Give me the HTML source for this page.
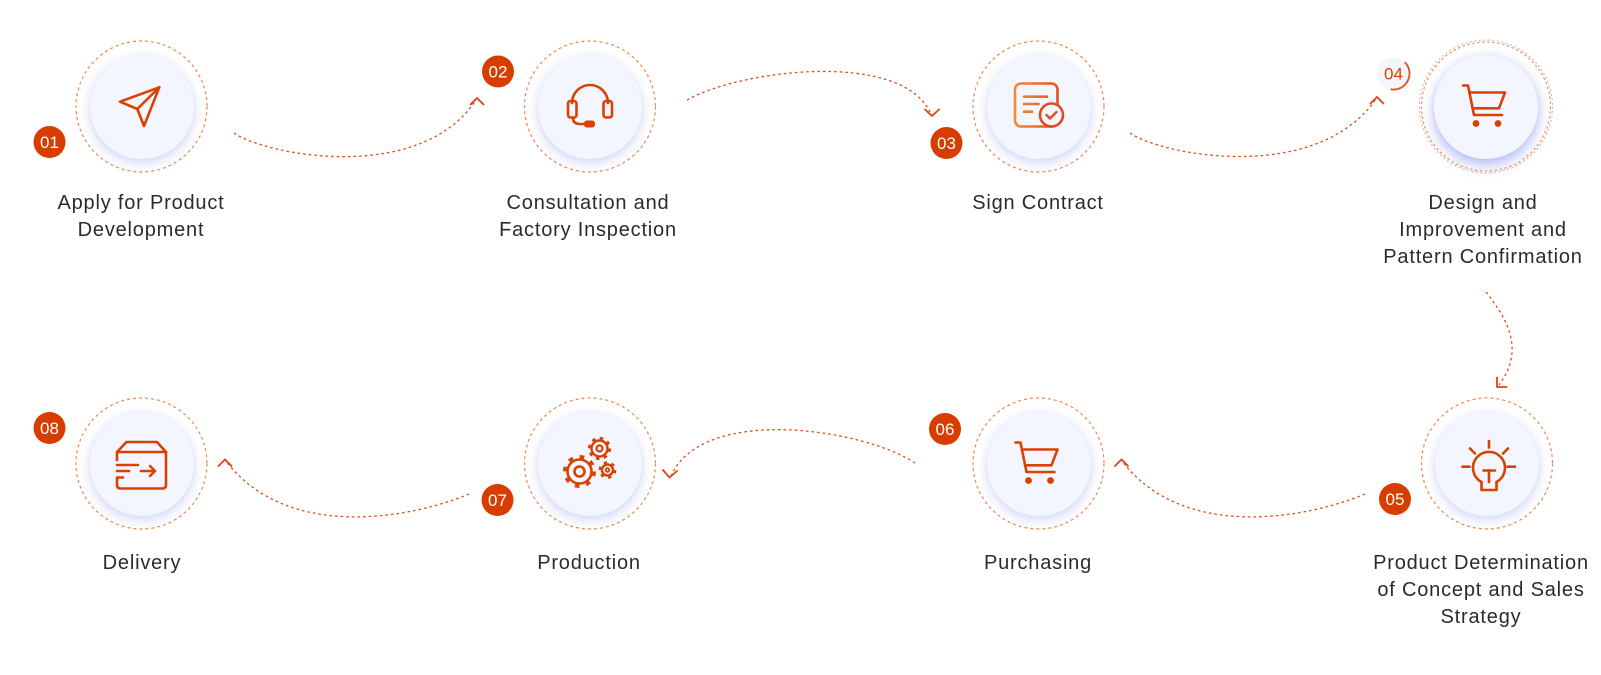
<!DOCTYPE html>
<html>
<head>
<meta charset="utf-8">
<style>
  html,body{margin:0;padding:0;}
  body{width:1601px;height:675px;background:#ffffff;position:relative;overflow:hidden;font-family:"Liberation Sans",Arial,sans-serif;}
  .c{position:absolute;width:104px;height:104px;border-radius:50%;background:#f3f6fe;
     box-shadow:0 5px 12px rgba(85,105,225,.22),0 0 7px rgba(85,105,225,.10);}
  .c.act{box-shadow:0 7px 14px rgba(80,100,225,.38),0 0 8px rgba(80,100,225,.14);}
  .lbl{position:absolute;width:280px;text-align:center;font-size:20px;line-height:27px;letter-spacing:0.8px;color:#2b2b2b;}
  svg{position:absolute;left:0;top:0;}
</style>
</head>
<body>
  <!-- inner circles -->
  <div class="c" style="left:89.5px;top:54.5px"></div>
  <div class="c" style="left:538px;top:54.5px"></div>
  <div class="c" style="left:986.5px;top:54.5px"></div>
  <div class="c act" style="left:1434px;top:54.5px"></div>
  <div class="c" style="left:89.5px;top:411.5px"></div>
  <div class="c" style="left:538px;top:411.5px"></div>
  <div class="c" style="left:986.5px;top:411.5px"></div>
  <div class="c" style="left:1435px;top:411.5px"></div>

  <svg width="1601" height="675" viewBox="0 0 1601 675">
    <defs>
      <linearGradient id="dg" gradientUnits="userSpaceOnUse" x1="1014" y1="0" x2="1064" y2="0">
        <stop offset="0" stop-color="#f28a3a"/>
        <stop offset="1" stop-color="#e04a22"/>
      </linearGradient>
    </defs>

    <!-- outer dashed rings -->
    <g fill="none" stroke="#f0874c" stroke-width="1.2" stroke-dasharray="3 3">
      <circle cx="141.5" cy="106.5" r="65.5"/>
      <circle cx="590" cy="106.5" r="65.5"/>
      <circle cx="1038.5" cy="106.5" r="65.5"/>
      <circle cx="141.5" cy="463.5" r="65.5"/>
      <circle cx="590" cy="463.5" r="65.5"/>
      <circle cx="1038.5" cy="463.5" r="65.5"/>
      <circle cx="1487" cy="463.5" r="65.5"/>
    </g>
    <!-- active ring node 4 -->
    <g fill="none" stroke-width="1.1">
      <circle cx="1486" cy="106.5" r="66.5" stroke="#d9b3a3" stroke-dasharray="2 2.5"/>
      <circle cx="1486" cy="106.5" r="64.5" stroke="#ec8a5a" stroke-dasharray="2.5 2.5"/>
    </g>

    <!-- connectors -->
    <g fill="none" stroke="#df4d18" stroke-width="1.3" stroke-dasharray="2.6 3">
      <path d="M234,133 C265,155 420,185 476,100"/>
      <path d="M687,100 C740,70 900,50 930,112"/>
      <path d="M1130,133 C1161,155 1316,185 1376,99"/>
      <path d="M1486,292 C1508,320 1525,350 1499,385"/>
      <path d="M1365,494 C1316,515 1186,545 1122,461"/>
      <path d="M915,463 C862,428 702,405 671,476"/>
      <path d="M469,494 C420,515 290,545 226,461"/>
    </g>
    <!-- chevrons -->
    <g fill="none" stroke="#dc4510" stroke-width="1.8" stroke-linecap="round" stroke-linejoin="round">
      <polyline points="470.5,104.5 477,98 483.5,104.5"/>
      <polyline points="925,109.5 932,116 939,109.5"/>
      <polyline points="1370.5,103.5 1377,97 1383.5,103.5"/>
      <polyline points="1497,377.5 1497,387 1506.5,387"/>
      <polyline points="1115,466 1121.5,459.5 1128,466"/>
      <polyline points="663,470 669.5,477.5 677,471"/>
      <polyline points="218.5,466 225,459.5 231.5,466"/>
    </g>

    <!-- icons -->
    <g fill="none" stroke="#d94100" stroke-width="2.6" stroke-linecap="round" stroke-linejoin="round">
      <!-- 1 paper plane -->
      <path d="M120,101.7 L159.3,87.3 L144,126 L137.3,109 Z"/>
      <path d="M137.3,109 L159.3,87.3"/>
      <!-- 2 headset -->
      <path d="M572,103 A18,18 0 0 1 608,103"/>
      <rect x="568" y="101" width="8.5" height="16.5" rx="2.5"/>
      <rect x="603.5" y="101" width="8.5" height="16.5" rx="2.5"/>
      <path d="M573,118 Q573,124 580,124 H585"/>
      <!-- 4 cart -->
      <g transform="translate(1486,106.5)">
        <path d="M-23,-21 H-18 L-12,8.5 H16"/>
        <path d="M-16.5,-14 H19 L13,1.8 H-13.5"/>
      </g>
      <!-- 6 cart -->
      <g transform="translate(1038.5,463.5)">
        <path d="M-23,-21 H-18 L-12,8.5 H16"/>
        <path d="M-16.5,-14 H19 L13,1.8 H-13.5"/>
      </g>
      <!-- 5 bulb -->
      <path d="M1489,441 V447.5"/>
      <path d="M1470,448.5 L1475,453.5"/>
      <path d="M1508,448.5 L1503,453.5"/>
      <path d="M1462.5,466.7 H1469.5"/>
      <path d="M1507.5,466.7 H1515"/>
      <path d="M1483.5,470.5 H1495"/>
      <path d="M1489,470.5 V482"/>
      <path d="M1481.5,482 A16,16 0 1 1 1496.5,482"/>
      <path d="M1481.5,482 V490 H1496.5 V482"/>
      <!-- 8 delivery box -->
      <path d="M117,452 L126.5,442 H157 L166,452 Z"/>
      <path d="M166,452 V485 Q166,488.5 162.5,488.5 H120.5 Q117,488.5 117,485 V478"/>
      <path d="M117,452 V460"/>
      <path d="M117,465 H138"/>
      <path d="M117,471 H129"/>
      <path d="M117,477.5 H123"/>
      <path d="M141,471 H155"/>
      <path d="M150,466 L155,471 L150,476"/>
    </g>
    <!-- headset mic capsule -->
    <rect x="584" y="120.5" width="11" height="7" rx="3" fill="#d94100"/>
    <!-- cart wheels -->
    <g fill="#d94100">
      <circle cx="1476" cy="123.5" r="3.4"/>
      <circle cx="1498" cy="123.5" r="3.4"/>
      <circle cx="1028.5" cy="480.5" r="3.4"/>
      <circle cx="1050.5" cy="480.5" r="3.4"/>
    </g>
    <!-- 3 document -->
    <g fill="none" stroke="url(#dg)" stroke-width="2.6" stroke-linecap="round" stroke-linejoin="round">
      <rect x="1015" y="83.5" width="42.5" height="43" rx="6"/>
      <path d="M1024,96.7 H1047"/>
      <path d="M1024,104 H1038.5"/>
      <path d="M1024,111.7 H1032"/>
    </g>
    <circle cx="1051.5" cy="115" r="11.5" fill="#f3f6fe" stroke="#e04a22" stroke-width="2.6"/>
    <path d="M1046.5,115 L1050,118.5 L1056.5,112" fill="none" stroke="#e04a22" stroke-width="2.4" stroke-linecap="round" stroke-linejoin="round"/>

    <!-- 7 gears -->
    <g fill="none" stroke="#d94100" stroke-linecap="butt">
      <circle cx="579.5" cy="471.5" r="12" stroke-width="2.6"/>
      <circle cx="579.5" cy="471.5" r="14.5" stroke-width="4" stroke-dasharray="4.6 6.79"/>
      <circle cx="579.5" cy="471.5" r="5" stroke-width="2.6"/>
      <circle cx="599.5" cy="448.5" r="8" stroke-width="2.4"/>
      <circle cx="599.5" cy="448.5" r="10" stroke-width="3.2" stroke-dasharray="3.4 4.45"/>
      <circle cx="599.5" cy="448.5" r="3" stroke-width="2.2"/>
      <circle cx="607.5" cy="470" r="5.5" stroke-width="2.4"/>
      <circle cx="607.5" cy="470" r="7.4" stroke-width="3" stroke-dasharray="3.2 4.55"/>
      <circle cx="607.5" cy="470" r="1.8" stroke-width="1.8"/>
    </g>

    <!-- badges -->
    <g fill="#d83d00">
      <circle cx="49.5" cy="142" r="16"/>
      <circle cx="498" cy="71.5" r="16"/>
      <circle cx="946.5" cy="143" r="16"/>
      <circle cx="1395" cy="499" r="16"/>
      <circle cx="945" cy="429" r="16"/>
      <circle cx="497.5" cy="500" r="16"/>
      <circle cx="49.5" cy="428" r="16"/>
    </g>
    <circle cx="1393.5" cy="73.5" r="16" fill="#f4f6fd"/>
    <path d="M1404.8,62.2 A16,16 0 0 1 1390.7,89.3" fill="none" stroke="#e0521c" stroke-width="1.8"/>
    <g font-family="Liberation Sans, Arial, sans-serif" font-size="17" text-anchor="middle" fill="#ffffff">
      <text x="49.5" y="148">01</text>
      <text x="498" y="77.5">02</text>
      <text x="946.5" y="149">03</text>
      <text x="1393.5" y="79.5" fill="#d83d00">04</text>
      <text x="1395" y="505">05</text>
      <text x="945" y="435">06</text>
      <text x="497.5" y="506">07</text>
      <text x="49.5" y="434">08</text>
    </g>
  </svg>

  <!-- labels -->
  <div class="lbl" style="left:1px;top:189.5px">Apply for Product<br>Development</div>
  <div class="lbl" style="left:448px;top:189.5px">Consultation and<br>Factory Inspection</div>
  <div class="lbl" style="left:898px;top:189.5px">Sign Contract</div>
  <div class="lbl" style="left:1343px;top:189.5px">Design and<br>Improvement and<br>Pattern Confirmation</div>
  <div class="lbl" style="left:1341px;top:549.5px">Product Determination<br>of Concept and Sales<br>Strategy</div>
  <div class="lbl" style="left:898px;top:549.5px">Purchasing</div>
  <div class="lbl" style="left:449px;top:549.5px">Production</div>
  <div class="lbl" style="left:2px;top:549.5px">Delivery</div>
</body>
</html>
